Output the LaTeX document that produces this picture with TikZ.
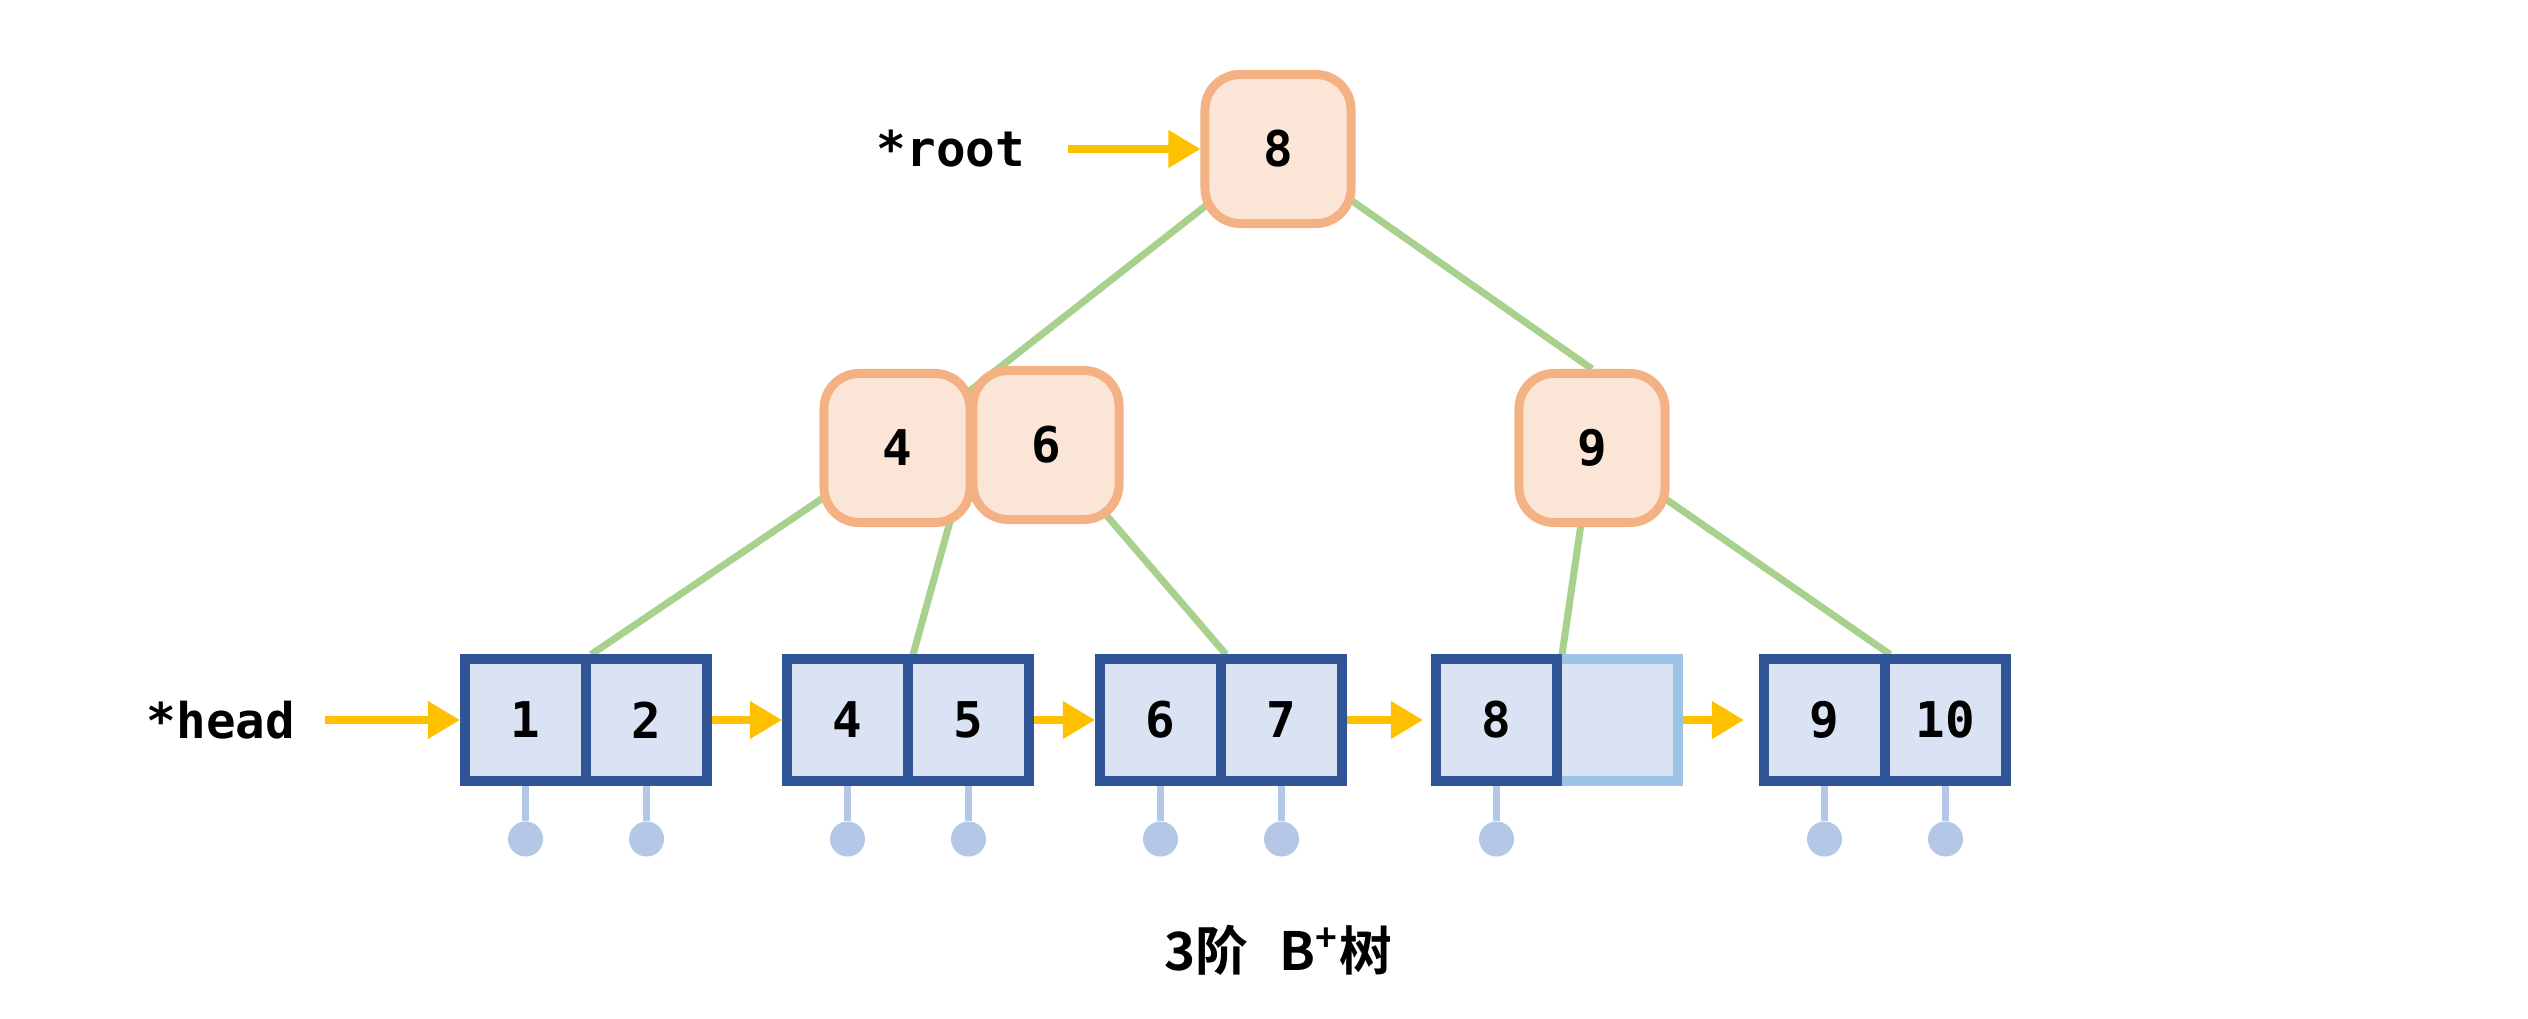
\documentclass[tikz,border=0pt]{standalone}
\usepackage{fontspec}
\setmonofont{DejaVu Sans Mono}
\newfontfamily\cjk{Noto Sans CJK SC}[BoldFont={Noto Sans CJK SC Bold}]
\usepackage{xcolor}
\usepackage{tikz}
\usetikzlibrary{arrows.meta, backgrounds}
\definecolor{peachline}{RGB}{244, 177, 131}
\definecolor{peachfill}{RGB}{251, 229, 214}
\definecolor{leafblue}{RGB}{47, 85, 151}
\definecolor{leaffill}{RGB}{218, 227, 243}
\definecolor{leaflight}{RGB}{157, 195, 230}
\definecolor{arrowgold}{RGB}{255, 192, 0}
\definecolor{edgegreen}{RGB}{169, 209, 142}
\definecolor{pinblue}{RGB}{180, 199, 231}

\begin{document}
\begin{tikzpicture}[x=0.01cm, y=-0.01cm,
  font=\fontsize{14}{16}\selectfont\ttfamily\bfseries,
  inner/.style={draw=peachline, fill=peachfill, line width=2.56pt, rounded corners=10pt,
    minimum width=1.46cm, minimum height=1.49cm, inner sep=0pt},
  cell/.style={draw=leafblue, fill=leaffill, line width=2.85pt,
    minimum width=1.21cm, minimum height=1.21cm, inner sep=0pt},
  ptr/.style={arrowgold, line width=2pt, -{Triangle[length=0.32cm, width=0.36cm]}},
  treeline/.style={edgegreen, line width=2pt},
  stem/.style={pinblue, line width=2.1pt},
  leafdot/.style={circle, fill=pinblue, minimum size=0.35cm, inner sep=0pt}]
  \useasboundingbox (0,0) rectangle (2528,1018);

  % index nodes
  \node[inner] (r8) at (1278,149) {8};
  \node[inner] (i4) at (897,448) {4};
  \node[inner] (i6) at (1046,445) {6};
  \node[inner] (i9) at (1592,448) {9};
  \coordinate (j46) at (971,446);

  % leaves
  \node[cell] (l1a) at (525.5,720) {1};
  \node[cell] (l1b) at (646.5,720) {2};
  \node[cell] (l2a) at (847.5,720) {4};
  \node[cell] (l2b) at (968.5,720) {5};
  \node[cell] (l3a) at (1160.5,720) {6};
  \node[cell] (l3b) at (1281.5,720) {7};
  \node[cell, draw=leaflight] (l4b) at (1617.5,720) {};
  \node[cell] (l4a) at (1496.5,720) {8};
  \node[cell] (l5a) at (1824.5,720) {9};
  \node[cell] (l5b) at (1945.5,720) {10};

  % pointers
  \node (root) at (951,149) {*root};
  \node (head) at (221,720) {*head};
  \draw[ptr] ([xshift=0.3cm]root.east) -- (r8.west);
  \draw[ptr] ([xshift=0.17cm]head.east) -- (l1a.west);
  \draw[ptr] (l1b.east) -- (l2a.west);
  \draw[ptr] (l2b.east) -- (l3a.west);
  \draw[ptr, shorten >=0.08cm] (l3b.east) -- (l4a.west);
  \draw[ptr, shorten >=0.15cm] (l4b.east) -- (l5a.west);

  % tree edges
  \begin{scope}[on background layer]
    \draw[treeline] (r8.center) -- (i4.center);
    \draw[treeline] (r8.center) -- (i9.north);
    \draw[treeline] (i4.center) -- (l1a.north east);
    \draw[treeline] (j46) -- (l2a.north east);
    \draw[treeline] (i6.center) -- (l3a.north east);
    \draw[treeline] (i9.center) -- (l4a.north east);
    \draw[treeline] (i9.center) -- (l5a.north east);
  \end{scope}

  % records
  \node[leafdot] (d1a) at (525.5,839) {};
  \node[leafdot] (d1b) at (646.5,839) {};
  \node[leafdot] (d2a) at (847.5,839) {};
  \node[leafdot] (d2b) at (968.5,839) {};
  \node[leafdot] (d3a) at (1160.5,839) {};
  \node[leafdot] (d3b) at (1281.5,839) {};
  \node[leafdot] (d4a) at (1496.5,839) {};
  \node[leafdot] (d5a) at (1824.5,839) {};
  \node[leafdot] (d5b) at (1945.5,839) {};
  \draw[stem] (l1a.south) -- (d1a);
  \draw[stem] (l1b.south) -- (d1b);
  \draw[stem] (l2a.south) -- (d2a);
  \draw[stem] (l2b.south) -- (d2b);
  \draw[stem] (l3a.south) -- (d3a);
  \draw[stem] (l3b.south) -- (d3b);
  \draw[stem] (l4a.south) -- (d4a);
  \draw[stem] (l5a.south) -- (d5a);
  \draw[stem] (l5b.south) -- (d5b);

  \node[font=\cjk\bfseries\fontsize{15}{17}\selectfont] (title) at (1278,950)
    {3阶\hspace{0.6em}B\textsuperscript{+}树};
\end{tikzpicture}
\end{document}
